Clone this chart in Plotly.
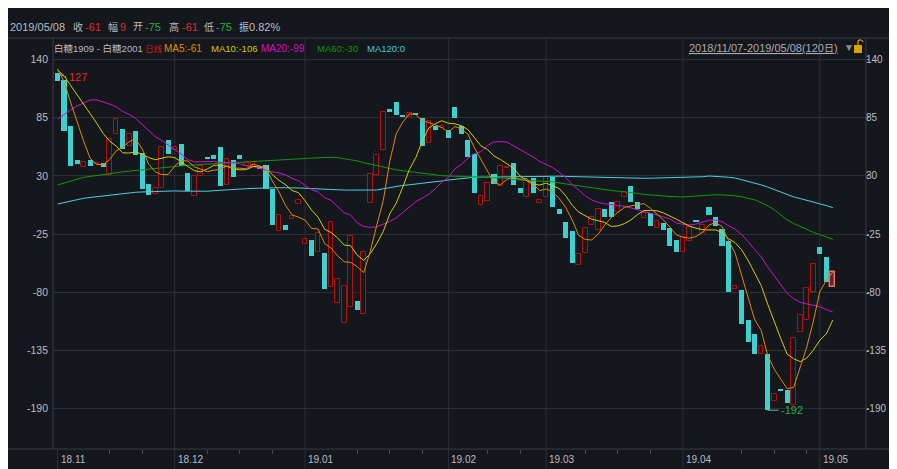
import numpy as np
import pandas as pd
import plotly.graph_objects as go

# ---------------- data ----------------
holidays = ['2018-12-31', '2019-01-01', '2019-02-04', '2019-02-05', '2019-02-06',
            '2019-02-07', '2019-02-08', '2019-04-05', '2019-05-01', '2019-05-02', '2019-05-03']
dates = [d.strftime('%Y-%m-%d') for d in pd.bdate_range('2018-11-07', '2019-05-08')
         if d.strftime('%Y-%m-%d') not in holidays]

opens = [127, 121, 77, 45, 38, 45, 41, 42, 31, 70,
         74, 58, 72, 52, 22, 13, 19, 64, 54.5, 60,
         33, 11, 30, 47, 50, 57, 21, 45, 50, 39,
         39, 38, 40, 18, -22, -16, -11, 3, -34, -31,
         -42, -43, -75, -90, -109, -94, -88, -101, 4, 31,
         54, 93, 99.5, 87.5, 85.5, 89.7, 85, 61, 77, 75.5,
         73, 95, 77, 64, 51, 2.5, 6.5, 32, 20, 37,
         42, 19, 10, 28, 4, 10, 28.6, -1.6, -14, -22,
         -54, -43, -16, -21, -1, 5, -4, 10, 20, 5.6,
         -10, -5, -19, -15, -19.5, -31, -42, -31.5, -11.7, -24,
         1, -9, -20.5, -31.5, -77, -78, -106, -119, -138.6, -138,
         -183, -171, -172, -186.5, -118, -106, -80, -37, -47, -75]
closes = [120, 72, 39, 41, 43, 39, 42, 38, 65, 84,
          55, 70, 50, 18, 12, 19, 57, 51, 57, 39,
          16, 30, 39, 46, 46, 20, 46, 28.5, 46, 42.5,
          43, 36.5, 18, -16, -7, -21, -8, 7, -30, -46,
          -24, -77, -14, -67, -74, -27, -97, -42, 32, 50,
          90, 90, 88, 86, 89, 87.5, 58.5, 82, 73, 77.4,
          66, 85, 70, 48, 13.5, 11, 23, 22, 39, 38.7,
          21, 13.5, 25, 13.5, 7, 29, 0.3, -6.3, -29, -52,
          -44, -19, -9, -1, -9, -9, 5, 15, 5.6, -1.5,
          -5, -17, -13, -21, -36, -42, -27.5, -18, -13.3, -16,
          -7, -17, -36, -80, -74, -110, -127, -138, -130.5, -191.5,
          -176, -173, -185, -123.5, -101.5, -76, -53, -44, -70, -61]
# closes of the 19 sessions before the window (needed for MA5/10/20 at the left edge)
prior_closes = [-22, -43, -33, -21, -11, 40, 72, 110, 135, 143,
                125, 130, 128, 131, 130, 132, 136, 138, 130]

ma60_line = [21.4, 23.2, 25.0, 26.8, 28.6, 29.5, 30.5, 31.5, 32.4, 33.1,
             33.8, 34.5, 35.2, 35.9, 36.6, 37.3, 37.9, 38.5, 39.0, 39.5,
             40.0, 40.5, 41.0, 41.3, 41.6, 41.9, 42.2, 42.5, 42.9, 43.3,
             43.6, 44.0, 44.4, 44.7, 45.0, 45.4, 45.7, 46.0, 46.4, 46.8,
             47.2, 47.4, 47.6, 47.2, 46.4, 45.6, 44.2, 42.5, 41.0, 39.5,
             38.1, 36.9, 35.7, 34.9, 34.1, 33.4, 32.3, 31.2, 30.6, 30.2,
             29.9, 29.7, 29.5, 29.3, 29.1, 29.0, 28.9, 28.8, 28.6, 27.8,
             26.5, 26.2, 25.9, 25.5, 25.1, 24.8, 24.4, 23.3, 22.4, 21.5,
             20.5, 19.6, 18.5, 17.4, 16.8, 16.2, 15.6, 15.1, 14.6, 13.5,
             12.5, 11.8, 11.4, 11.0, 10.6, 10.3, 10.0, 10.5, 11.0, 11.4,
             11.8, 12.2, 12.0, 11.8, 11.2, 10.2, 9.0, 7.4, 4.8, 1.8,
             -2.0, -6.5, -11.7, -15.0, -18.0, -20.5, -23.3, -25.5, -27.8, -30.0]
ma120_line = [3.4, 4.8, 6.1, 7.5, 8.8, 9.6, 10.4, 11.2, 12.0, 12.7,
              13.4, 14.0, 14.5, 14.8, 15.1, 15.4, 15.7, 16.0, 15.8, 15.6,
              15.4, 15.2, 15.0, 15.5, 16.0, 16.5, 17.0, 17.3, 17.6, 17.9,
              18.2, 18.5, 18.8, 18.8, 18.8, 18.8, 18.8, 18.8, 18.4, 18.0,
              17.6, 17.2, 16.9, 16.6, 16.6, 16.6, 16.6, 16.6, 16.6, 16.6,
              17.8, 19.0, 20.4, 21.0, 21.6, 22.2, 22.8, 23.5, 24.4, 25.2,
              26.1, 26.9, 27.7, 28.6, 28.7, 28.8, 28.9, 29.0, 29.2, 29.2,
              29.2, 29.2, 29.2, 29.2, 29.5, 29.7, 29.9, 29.7, 29.5, 29.3,
              29.2, 29.0, 28.8, 28.6, 28.5, 28.4, 28.3, 28.1, 28.0, 27.8,
              27.7, 27.8, 27.9, 28.0, 28.1, 28.2, 28.3, 28.4, 28.6, 29.2,
              29.9, 29.6, 29.2, 28.7, 28.0, 26.5, 25.0, 23.3, 21.5, 19.5,
              17.2, 14.8, 12.4, 10.1, 8.6, 7.1, 5.6, 3.7, 1.9, 0.0]

y_ticks = [140, 85, 30, -25, -80, -135, -190]
month_labels = ['18.11', '18.12', '19.01', '19.02', '19.03', '19.04', '19.05']

# ---------------- derived ----------------
all_c = pd.Series(prior_closes + closes, dtype=float)
npre = len(prior_closes)
ma5 = all_c.rolling(5).mean().iloc[npre:].to_numpy()
ma10 = all_c.rolling(10).mean().iloc[npre:].to_numpy()
ma20 = all_c.rolling(20).mean().iloc[npre:].to_numpy()

o = np.array(opens, float)
c = np.array(closes, float)
base = np.minimum(o, c)
height = np.maximum(np.abs(c - o), 1.0)
up = c >= o
n = len(dates)
last = n - 1

month_idx = [i for i in range(n) if i == 0 or dates[i][5:7] != dates[i - 1][5:7]]
week_ticks = []
cur_m = 0
for i in range(n):
    if i in month_idx:
        cur_m = i
    if pd.Timestamp(dates[i]).weekday() == 0 and i - cur_m >= 5:
        week_ticks.append(dates[i])

# ---------------- style ----------------
BG = '#14171c'
GRID = '#2c2f35'
LINE = '#3a3d44'
TXT = '#b9bdc4'
RED = '#b30f0f'
CYAN = '#3ecfcf'
OFF = 8                       # page offset of the figure inside the window
L, R, T, B = 53, 866, 38, 449  # plot area in window pixels
W, H = R - L, B - T


def xp(px):
    return (px - L) / W


def yp(py):
    return (B - py) / H


fig = go.Figure()
ui = [i for i in range(n) if up[i] and i != last]
di = [i for i in range(n) if not up[i] and i != last]
fig.add_trace(go.Bar(x=[dates[i] for i in ui], y=height[ui], base=base[ui], width=0.72,
                     marker=dict(color=BG, line=dict(color=RED, width=1)), showlegend=False))
fig.add_trace(go.Bar(x=[dates[i] for i in di], y=height[di], base=base[di], width=0.78,
                     marker=dict(color=CYAN, line=dict(color=CYAN, width=0)), showlegend=False))
fig.add_trace(go.Bar(x=[dates[last]], y=[height[last]], base=[base[last]], width=0.78,
                     marker=dict(color='#5a2a30', line=dict(color='#e86a6a', width=1.5)), showlegend=False))

for vals, col in [(ma120_line, '#46d2e0'), (ma60_line, '#0a9a0a'), (ma20, '#d010d0'),
                  (ma10, '#d8cc00'), (ma5, '#e08a00')]:
    fig.add_trace(go.Scatter(x=dates, y=vals, mode='lines', line=dict(color=col, width=1),
                             showlegend=False, hoverinfo='skip'))

fig.add_trace(go.Scatter(x=[dates[0]], y=[0], yaxis='y2', mode='markers', opacity=0,
                         showlegend=False, hoverinfo='skip'))

yr = [140 - (B - 59.5) / 1.058, 140 + (59.5 - T) / 1.058]

shapes = []
for i in month_idx:
    shapes.append(dict(type='line', xref='x', yref='paper', x0=dates[i], x1=dates[i],
                       y0=yp(475), y1=(0 if i == 0 else 1), line=dict(color=GRID, width=1), layer='below'))
shapes += [
    dict(type='line', xref='paper', yref='paper', x0=xp(0), x1=xp(905), y0=1, y1=1, line=dict(color=LINE, width=1)),
    dict(type='line', xref='paper', yref='paper', x0=xp(0), x1=xp(905), y0=0, y1=0, line=dict(color=LINE, width=1)),
    dict(type='line', xref='paper', yref='paper', x0=0, x1=0, y0=0, y1=1, line=dict(color=LINE, width=1)),
    dict(type='line', xref='paper', yref='paper', x0=1, x1=1, y0=0, y1=1, line=dict(color=LINE, width=1)),
    dict(type='rect', xref='paper', yref='paper', x0=xp(854), x1=xp(862), y0=yp(53), y1=yp(45),
         fillcolor='#d9a400', line=dict(width=0), layer='above'),
    dict(type='path', xref='paper', yref='paper',
         path=f'M {xp(858)} {yp(45)} L {xp(858)} {yp(41)} Q {xp(861)} {yp(38.5)} {xp(863)} {yp(42)}',
         line=dict(color='#d9a400', width=1.2), layer='above'),
]

FONT = 'Liberation Sans, Noto Sans CJK SC, sans-serif'
ann = []


def txt(s, px, py, color, size=11, anchor='left'):
    ann.append(dict(text=s, x=xp(px), y=yp(py), xref='paper', yref='paper', showarrow=False,
                    xanchor=anchor, yanchor='middle', font=dict(family=FONT, size=size, color=color)))


def cj(s, size):
    return f'<span style="font-size:{size}px">{s}</span>'


GREEN_T = '#22b04a'
RED_T = '#e02a2a'
chg = closes[-1] - closes[-2]
hi, lo = max(opens[-1], closes[-1]), min(opens[-1], closes[-1])
txt(dates[-1].replace('-', '/'), 8, 27, TXT)
txt(cj('收', 10), 71, 27, TXT); txt(f'{closes[-1]:.0f}', 83, 27, RED_T)
txt(cj('幅', 10), 106, 27, TXT); txt(f'{chg:.0f}', 118, 27, RED_T)
txt(cj('开', 10), 131, 27, TXT); txt(f'{opens[-1]:.0f}', 143, 27, GREEN_T)
txt(cj('高', 10), 167, 27, TXT); txt(f'{hi:.0f}', 180, 27, RED_T)
txt(cj('低', 10), 202, 27, TXT); txt(f'{lo:.0f}', 214, 27, GREEN_T)
txt(cj('振', 10) + '0.82%', 237, 27, TXT)

txt(cj('白糖', 9.5) + '1909 - ' + cj('白糖', 9.5) + '2001', 52, 49, TXT, size=9.5)
txt(cj('日线', 8.5), 143, 49, '#e01010', size=9.5)
txt(f'MA5:{ma5[-1]:.0f}', 162, 49, '#e08a00', size=10)
txt(f'MA10:{ma10[-1]:.0f}', 209, 49, '#d8cc00', size=9.5)
txt(f'MA20:{ma20[-1]:.0f}', 259, 49, '#d010d0', size=10)
txt(f'MA60:{ma60_line[-1]:.0f}', 315, 49, '#0a9a0a', size=9.5)
txt(f'MA120:{ma120_line[-1]:.0f}', 365, 49, '#40c8e0', size=9.5)
txt(f'<u>{dates[0].replace("-", "/")}-{dates[-1].replace("-", "/")}({n}' + cj('日', 10) + ')</u>',
    840, 48, '#a8acb4', size=11, anchor='right')
txt('▼', 842, 48, '#8a8e96', size=10)

# right-hand value labels
for v in y_ticks:
    ann.append(dict(text=str(v), x=xp(865), y=v, xref='paper', yref='y', showarrow=False,
                    xanchor='left', yanchor='middle', borderpad=0,
                    font=dict(family=FONT, size=10, color=TXT)))

for i, lab in zip(month_idx, month_labels):
    ann.append(dict(text=lab, x=dates[i], y=yp(459), xref='x', yref='paper', showarrow=False,
                    xanchor='left', yanchor='middle', xshift=1,
                    font=dict(family=FONT, size=10, color=TXT)))

imax = int(np.argmax(np.maximum(o, c)))
imin = int(np.argmin(np.minimum(o, c)))
ann.append(dict(text=f'{max(opens[imax], closes[imax]):.0f}', x=dates[imax], y=max(opens[imax], closes[imax]),
                xref='x', yref='y', showarrow=True, arrowhead=0, arrowwidth=1, arrowcolor='#9a9a9a',
                ax=9, ay=4, xanchor='left', font=dict(family=FONT, size=11, color='#e02a2a')))
ann.append(dict(text=f'{min(opens[imin], closes[imin]):.0f}', x=dates[imin], y=min(opens[imin], closes[imin]),
                xref='x', yref='y', showarrow=True, arrowhead=0, arrowwidth=1, arrowcolor='#9a9a9a',
                ax=11, ay=0, xanchor='left', font=dict(family=FONT, size=11, color=GREEN_T)))

tickfont = dict(family=FONT, size=10.5, color=TXT)
fig.update_layout(
    width=897, height=469,
    margin=dict(l=L - OFF, r=897 - (R - OFF), t=T - OFF, b=469 - (B - OFF)),
    paper_bgcolor=BG, plot_bgcolor=BG,
    barmode='overlay', bargap=0, showlegend=False,
    xaxis=dict(type='category', categoryorder='array', categoryarray=dates,
               range=[(L - 57.5) / 6.515, (R - 57.5) / 6.515],
               tickmode='array', tickvals=week_ticks, ticktext=[''] * len(week_ticks),
               ticks='outside', ticklen=4, tickcolor='#4a4e56', showgrid=False,
               zeroline=False, showline=False, fixedrange=True),
    yaxis=dict(range=yr, tickmode='array', tickvals=y_ticks, ticktext=[str(v) for v in y_ticks],
               gridcolor=GRID, gridwidth=1, zeroline=False, showline=False,
               tickfont=tickfont, ticklabelstandoff=4),
    yaxis2=dict(range=yr, overlaying='y', side='right', tickmode='array', tickvals=y_ticks,
                showticklabels=False, showgrid=False, zeroline=False, showline=False,
                ticks='outside', ticklen=2, tickcolor='#8a8e96'),
    shapes=shapes, annotations=ann,
)
fig.write_html('out.html')
